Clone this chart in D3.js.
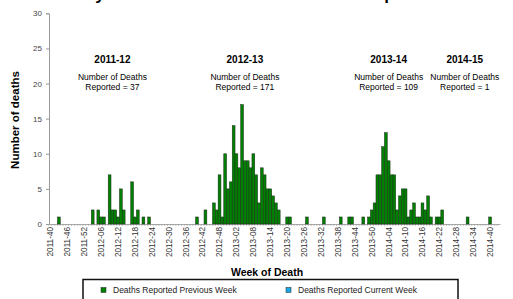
<!DOCTYPE html>
<html>
<head>
<meta charset="utf-8">
<script src="https://cdn.jsdelivr.net/npm/d3@7"></script>
<style>
  html, body { margin: 0; padding: 0; background: #fff; }
  svg { display: block; font-family: "Liberation Sans", Arial, sans-serif; }
</style>
</head>
<body>
<svg id="chart" width="513" height="299"></svg>
<script>
// season names, start years and reported totals
const seasons = ["2011-12", "2012-13", "2013-14", "2014-15"];
const seasonStartYears = [2011, 2012, 2013, 2014];
const seasonTotals = [37, 171, 109, 1];

// deaths per week, each season starts at week 40
const deaths1112 = [0,0,0,1,0,0,0,0,0,0, 0,0,0,0,0,2,0,2,1,1, 0,7,2,2,1,5,2,0,0,6, 1,2,0,1,0,1,0,0,0,0, 0,0,0,0,0,0,0,0,0,0, 0,0];
const deaths1213 = [1,0,0,2,0,0,3,2,7,1, 10,5,6,14,10,8,17,9,9,8, 10,7,3,8,7,5,5,4,3,2, 0,0,1,1,0,0,0,0,0,1, 0,0,0,0,0,1,0,0,0,0, 0,1];
const deaths1314 = [0,0,1,1,0,0,0,1,0,1, 2,3,7,7,11,13,9,7,7,2, 4,5,5,1,2,3,1,1,3,2, 4,1,0,1,1,2,0,0,0,0, 0,0,0,0,1,0,0,0,0,0, 0,0];
const deaths1415 = [1,0,0,0];
// reported in the current week (none this time)
const currentWeekDeaths = [];

const tickLabels = ["2011-40","2011-46","2011-52","2012-06","2012-12","2012-18","2012-24","2012-30","2012-36",
  "2012-42","2012-48","2013-02","2013-08","2013-14","2013-20","2013-26","2013-32","2013-38","2013-44",
  "2013-50","2014-04","2014-10","2014-16","2014-22","2014-28","2014-34","2014-40"];
const yTicks = [0, 5, 10, 15, 20, 25, 30];

(function () {
  function seasonWeeks(startYear, n) {
    const out = [];
    for (let k = 0; k < n; k++) {
      let w = 40 + k, yr = startYear;
      if (w > 52) { w -= 52; yr += 1; }
      out.push(`${yr}-${String(w).padStart(2, "0")}`);
    }
    return out;
  }

  const seasonData = [deaths1112, deaths1213, deaths1314, deaths1415];
  const rows = [];
  seasonData.forEach((vals, s) => {
    const wk = seasonWeeks(seasonStartYears[s], vals.length);
    vals.forEach((v, i) => rows.push({ week: wk[i], value: v }));
  });
  const weeks = rows.map(d => d.week);

  const svg = d3.select("#chart");

  const x = d3.scaleBand().domain(weeks).range([49, 500]).padding(0);
  const y = d3.scaleLinear().domain([0, 30]).range([224, 13.3]);

  // title, cut by the top edge
  svg.append("text")
    .attr("x", 85).attr("y", -0.5)
    .attr("textLength", 360).attr("lengthAdjust", "spacingAndGlyphs")
    .style("font-size", "16px").style("font-weight", "bold")
    .text("by Week of Death: 2011-12 season to present");

  // y axis
  const gy = svg.append("g")
    .attr("transform", "translate(49,0)")
    .call(d3.axisLeft(y).tickValues(yTicks).tickSize(3).tickPadding(4));
  gy.select(".domain").attr("stroke", "#999");
  gy.selectAll(".tick line").attr("stroke", "#999");
  gy.selectAll("text").style("font-size", "8px").attr("fill", "#444");

  // x axis
  const gx = svg.append("g")
    .attr("transform", "translate(0,224)")
    .call(d3.axisBottom(x).tickValues(tickLabels).tickSize(0).tickSizeOuter(0));
  gx.select(".domain").attr("stroke", "#aaa");
  gx.selectAll("text")
    .attr("transform", "rotate(-90)")
    .attr("x", -3).attr("y", 0).attr("dy", "0.35em")
    .style("text-anchor", "end")
    .style("font-size", "8.2px")
    .attr("fill", "#333");

  // small week ticks
  svg.append("g").selectAll("line")
    .data(weeks)
    .enter().append("line")
    .attr("x1", d => x(d)).attr("x2", d => x(d))
    .attr("y1", 224).attr("y2", 226)
    .attr("stroke", "#999").attr("stroke-width", 0.6);

  // bars
  svg.append("g").selectAll("rect")
    .data(rows.filter(d => d.value > 0))
    .enter().append("rect")
    .attr("x", d => x(d.week))
    .attr("y", d => y(d.value))
    .attr("width", x.bandwidth())
    .attr("height", d => y(0) - y(d.value))
    .attr("fill", "#008000")
    .attr("stroke", "#1c2a1c")
    .attr("stroke-width", 0.5);

  // axis titles
  svg.append("text")
    .attr("transform", "translate(19,120) rotate(-90)")
    .attr("text-anchor", "middle")
    .style("font-size", "11.5px").style("font-weight", "bold")
    .text("Number of deaths");

  svg.append("text")
    .attr("x", 267).attr("y", 276)
    .attr("text-anchor", "middle")
    .style("font-size", "10.5px").style("font-weight", "bold")
    .text("Week of Death");

  // season annotations
  const anchorWeeks = ["2012-10", "2013-05", "2014-04", "2014-31"];
  seasons.forEach((s, i) => {
    const cx = x(anchorWeeks[i]) + x.bandwidth() / 2;
    const g = svg.append("g").attr("text-anchor", "middle");
    g.append("text").attr("x", cx).attr("y", 63)
      .style("font-size", "10px").style("font-weight", "bold").text(s);
    g.append("text").attr("x", cx).attr("y", 80)
      .style("font-size", "8.5px").text("Number of Deaths");
    g.append("text").attr("x", cx).attr("y", 90)
      .style("font-size", "8.5px").text(`Reported = ${seasonTotals[i]}`);
  });

  // legend
  const lg = svg.append("g");
  lg.append("rect")
    .attr("x", 83).attr("y", 279.5).attr("width", 375).attr("height", 40)
    .attr("fill", "#fff").attr("stroke", "#111").attr("stroke-width", 1.5);
  const items = [
    { label: "Deaths Reported Previous Week", color: "#008000", x: 101 },
    { label: "Deaths Reported Current Week", color: "#1aa7e6", x: 286 }
  ];
  items.forEach(it => {
    lg.append("rect").attr("x", it.x).attr("y", 287.5).attr("width", 5).attr("height", 5)
      .attr("fill", it.color).attr("stroke", "#222").attr("stroke-width", 0.5);
    lg.append("text").attr("x", it.x + 12).attr("y", 293.3)
      .style("font-size", "8.5px").attr("fill", "#222").text(it.label);
  });
})();
</script>
</body>
</html>
